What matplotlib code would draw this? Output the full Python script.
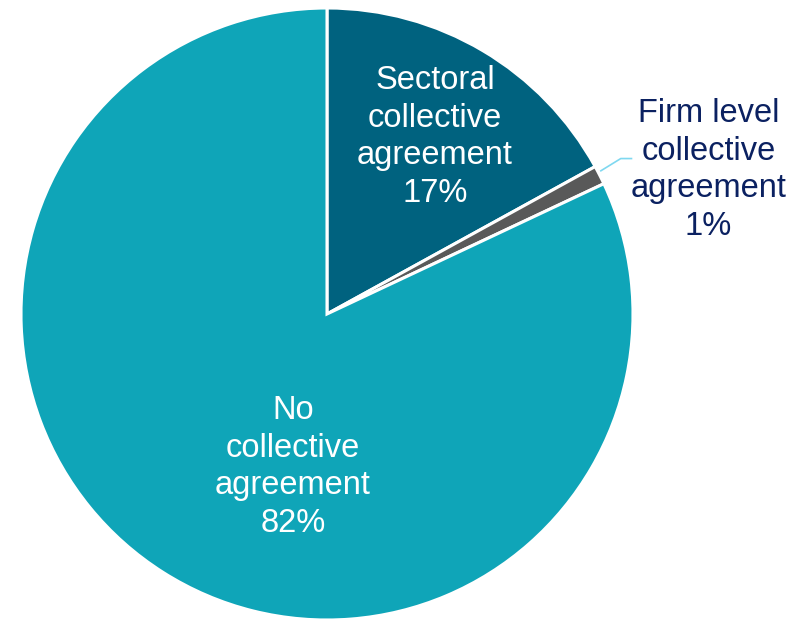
import matplotlib.pyplot as plt

plt.rcParams['font.family'] = ['Liberation Sans', 'DejaVu Sans']

labels = ["Sectoral\ncollective\nagreement", "Firm level\ncollective\nagreement", "No\ncollective\nagreement"]
shares = [17, 1, 82]
colors = ["#00627f", "#595959", "#0fa5b8"]

fig = plt.figure(figsize=(7.98, 6.2), dpi=100)
ax = fig.add_axes([0, 0, 1, 1])

wedges, _ = ax.pie(shares, colors=colors, startangle=90, counterclock=False,
                   radius=1.0, wedgeprops=dict(edgecolor="white", linewidth=2.2))

ax.set_xlim(-327 / 306, (798 - 327) / 306)
ax.set_ylim(-(620 - 314) / 306, 314 / 306)
ax.set_aspect("equal")
ax.axis("off")

fs = 23.5
ls = 1.27
ax.text(0.353, 0.578, "{}\n{}%".format(labels[0], shares[0]), color="white",
        fontsize=fs, ha="center", va="center", linespacing=ls)
ax.text(-0.111, -0.5, "{}\n{}%".format(labels[2], shares[2]), color="white",
        fontsize=fs, ha="center", va="center", linespacing=ls)

# callout for the thin slice
ax.plot([0.895, 0.96, 0.995], [0.468, 0.508, 0.508], color="#7fd8f0", lw=1.2)
ax.text(1.247, 0.47, "{}\n{}%".format(labels[1], shares[1]), color="#0b2161",
        fontsize=fs, ha="center", va="center", linespacing=ls)

fig.savefig("out.png", dpi=100)
